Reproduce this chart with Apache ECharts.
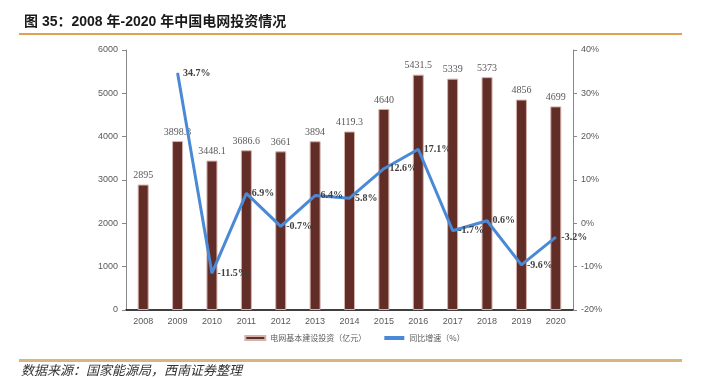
<!DOCTYPE html>
<html>
<head>
<meta charset="utf-8">
<script src="https://cdn.jsdelivr.net/npm/echarts@6/dist/echarts.min.js"></script>
<style>
  html, body { margin: 0; padding: 0; background: #fff; }
  #gridInvest { width: 709px; height: 378px; }
</style>
</head>
<body>
<div id="gridInvest"></div>
<script>
  // 年份
  const years = ['2008', '2009', '2010', '2011', '2012', '2013', '2014', '2015', '2016', '2017', '2018', '2019', '2020']
  // 电网基本建设投资（亿元）
  const investment = [2895, 3898.3, 3448.1, 3686.6, 3661, 3894, 4119.3, 4640, 5431.5, 5339, 5373, 4856, 4699]
  // 同比增速（%）
  const growth = ['-', 34.7, -11.5, 6.9, -0.7, 6.4, 5.8, 12.6, 17.1, -1.7, 0.6, -9.6, -3.2]

  const chart = echarts.init(document.getElementById('gridInvest'))
  const axisLabelStyle = { color: '#595959', fontSize: 9, fontFamily: 'Liberation Sans' }

  const option = {
    animation: false,
    title: {
      text: '图 35：2008 年-2020 年中国电网投资情况',
      left: 19,
      top: 10,
      textStyle: {
        fontSize: 14,
        fontWeight: 'bold',
        color: '#1a1a1a',
        fontFamily: 'Liberation Sans, Noto Sans CJK SC'
      }
    },
    graphic: [
      { type: 'rect', shape: { x: 19, y: 33, width: 663, height: 2 }, style: { fill: '#e0a24e' } },
      { type: 'rect', shape: { x: 19, y: 359, width: 663, height: 3 }, style: { fill: '#d7b57c' } },
      {
        type: 'text', left: 21, top: 364,
        style: {
          text: '数据来源：国家能源局，西南证券整理',
          font: 'italic 13px "Noto Sans CJK SC"',
          fill: '#333'
        }
      }
    ],
    legend: {
      bottom: 31,
      left: 'center',
      itemWidth: 20,
      itemHeight: 4,
      itemGap: 18,
      textStyle: { fontSize: 8, color: '#595959', fontFamily: 'Noto Sans CJK SC' },
      data: [
        { name: '电网基本建设投资（亿元）', icon: 'rect' },
        { name: '同比增速（%）', icon: 'rect' }
      ]
    },
    grid: { left: 126, right: 136, top: 50, bottom: 68 },
    xAxis: {
      type: 'category',
      data: years,
      axisLine: { lineStyle: { color: '#000', width: 1.5 } },
      axisTick: { show: false },
      axisLabel: Object.assign({ margin: 7 }, axisLabelStyle)
    },
    yAxis: [
      {
        type: 'value',
        min: 0,
        max: 6000,
        interval: 1000,
        splitLine: { show: false },
        axisLine: { show: true, lineStyle: { color: '#888' } },
        axisTick: { show: true, length: 4, lineStyle: { color: '#888' } },
        axisLabel: Object.assign({ margin: 8, formatter: v => String(v) }, axisLabelStyle)
      },
      {
        type: 'value',
        min: -20,
        max: 40,
        interval: 10,
        splitLine: { show: false },
        axisLine: { show: true, lineStyle: { color: '#888' } },
        axisTick: { show: true, length: 4, lineStyle: { color: '#888' } },
        axisLabel: Object.assign({ margin: 8, formatter: '{value}%' }, axisLabelStyle)
      }
    ],
    series: [
      {
        name: '电网基本建设投资（亿元）',
        type: 'bar',
        barWidth: 11,
        data: investment,
        itemStyle: { color: '#622d26', borderColor: '#d4b3ac', borderWidth: 1 },
        label: {
          show: true,
          position: 'top',
          distance: 4,
          fontSize: 10,
          color: '#595959',
          fontFamily: 'Liberation Serif'
        }
      },
      {
        name: '同比增速（%）',
        type: 'line',
        yAxisIndex: 1,
        data: growth,
        showSymbol: true,
        symbol: 'circle',
        symbolSize: 1,
        color: '#4a89d6',
        lineStyle: { width: 3, color: '#4a89d6' },
        labelLayout: { hideOverlap: false },
        label: {
          show: true,
          position: 'right',
          distance: 5,
          formatter: '{c}%',
          fontSize: 10,
          fontWeight: 'bold',
          color: '#404040',
          fontFamily: 'Liberation Serif'
        }
      }
    ]
  }

  chart.setOption(option)
</script>
</body>
</html>
